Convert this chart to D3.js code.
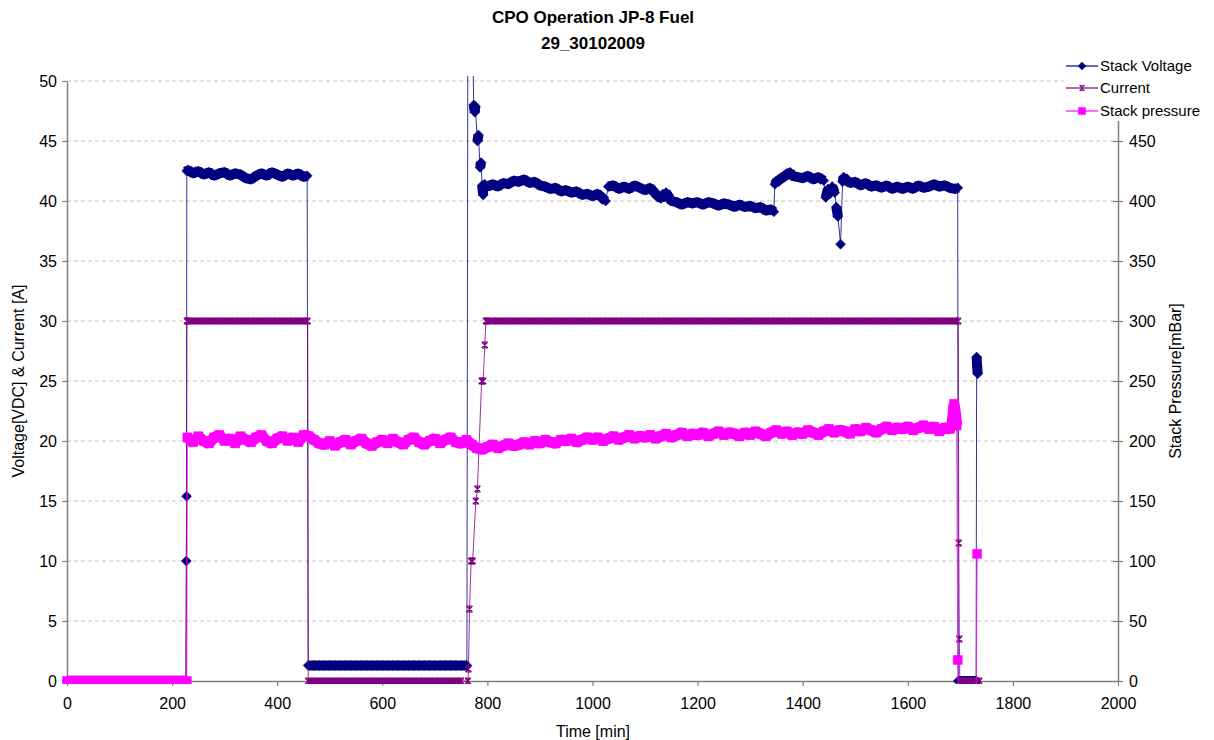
<!DOCTYPE html>
<html>
<head>
<meta charset="utf-8">
<script src="https://cdn.jsdelivr.net/npm/d3@7"></script>
<style>
  body { margin: 0; background: #fff; }
  text { font-family: "Liberation Sans", Arial, sans-serif; }
</style>
</head>
<body>
<script>
// Series: [time in min, value]
var stackVoltage = [
  [0,0],[10,0],[20,0],[30,0],[40,0],[50,0],[60,0],[70,0],[80,0],[90,0],[100,0],[110,0],[120,0],[130,0],[140,0],[150,0],[160,0],[170,0],[180,0],[190,0],[200,0],[210,0],[220,0],[226,0],
  [227,10.0],[227.5,15.4],[228,42.5],[230,42.6],[240,42.3],[250,42.5],[260,42.2],[270,42.4],[280,42.1],[290,42.3],[300,42.4],[310,42.1],[320,42.3],[330,42.2],[340,41.9],[350,41.8],[360,42.1],[370,42.3],[380,42.1],[390,42.4],[400,42.2],[410,42.0],[420,42.3],[430,42.1],[440,42.3],[450,42.0],[457,42.1],
  [459,1.3],[470,1.3],[480,1.3],[490,1.3],[500,1.3],[510,1.3],[520,1.3],[530,1.3],[540,1.3],[550,1.3],[560,1.3],[570,1.3],[580,1.3],[590,1.3],[600,1.3],[610,1.3],[620,1.3],[630,1.3],[640,1.3],[650,1.3],[660,1.3],[670,1.3],[680,1.3],[690,1.3],[700,1.3],[710,1.3],[720,1.3],[730,1.3],[740,1.3],[750,1.3],[761,1.3],
  [763,60],[771,56],[774,48.0],[776,47.4],[777,47.9],[781,45.0],[783,45.5],[786,42.8],[788,43.2],[790,41.3],[792,40.5],[795,41.4],
  [800,41.2],[810,41.4],[820,41.2],[830,41.5],[840,41.4],[850,41.7],[860,41.6],[870,41.8],[880,41.5],[890,41.6],[900,41.3],[910,41.2],[920,41.0],[930,41.1],[940,40.8],[950,40.9],[960,40.7],[970,40.8],[980,40.5],[990,40.6],
  [1000,40.4],[1010,40.6],[1020,40.2],[1025,40.0],[1030,41.2],[1040,41.3],[1050,41.0],[1060,41.2],[1070,41.0],[1080,41.3],[1090,41.1],[1100,40.9],[1110,41.1],[1120,40.6],[1130,40.2],[1140,40.7],[1150,40.0],[1160,39.9],[1170,39.7],[1180,39.9],[1190,39.8],
  [1200,39.9],[1210,39.7],[1220,39.9],[1230,39.8],[1240,39.6],[1250,39.8],[1260,39.7],[1270,39.5],[1280,39.7],[1290,39.5],[1300,39.6],[1310,39.4],[1320,39.5],[1330,39.2],[1340,39.3],[1345,39.1],
  [1347,41.4],[1350,41.6],[1360,41.9],[1370,42.2],[1376,42.4],[1380,42.1],[1390,42.0],[1400,41.9],[1410,42.1],[1420,41.8],[1430,42.0],[1440,41.7],[1444,40.3],[1448,41.0],[1452,40.6],[1456,41.2],[1461,40.7],[1464,39.5],[1467,38.7],[1472,36.4],[1476,41.6],[1478,42.0],[1484,41.7],[1490,41.5],
  [1500,41.6],[1510,41.3],[1520,41.5],[1530,41.2],[1540,41.3],[1550,41.1],[1560,41.3],[1570,41.0],[1580,41.2],[1590,41.0],[1600,41.2],[1610,41.0],[1620,41.3],[1630,41.1],[1640,41.2],[1650,41.4],[1660,41.2],[1670,41.3],[1680,41.1],[1690,41.0],[1695,41.1],
  [1696,0],[1700,0],[1710,0],[1720,0],[1730,0],[1731,27.0],[1732,26.2],[1733,25.6]
];

var current = [
  [0,0],[10,0],[20,0],[30,0],[40,0],[50,0],[60,0],[70,0],[80,0],[90,0],[100,0],[110,0],[120,0],[130,0],[140,0],[150,0],[160,0],[170,0],[180,0],[190,0],[200,0],[210,0],[220,0],[227,0],
  [228,30],[230,30],[240,30],[250,30],[260,30],[270,30],[280,30],[290,30],[300,30],[310,30],[320,30],[330,30],[340,30],[350,30],[360,30],[370,30],[380,30],[390,30],[400,30],[410,30],[420,30],[430,30],[440,30],[450,30],[458,30],
  [459,0],[470,0],[480,0],[490,0],[500,0],[510,0],[520,0],[530,0],[540,0],[550,0],[560,0],[570,0],[580,0],[590,0],[600,0],[610,0],[620,0],[630,0],[640,0],[650,0],[660,0],[670,0],[680,0],[690,0],[700,0],[710,0],[720,0],[730,0],[740,0],[750,0],[763,0],
  [764,1],[766,6],[769,10],[772,10],[778,15],[781,16],[789,25],[792,25],[795,28],[797,30],
  [800,30],[810,30],[820,30],[830,30],[840,30],[850,30],[860,30],[870,30],[880,30],[890,30],[900,30],[910,30],[920,30],[930,30],[940,30],[950,30],[960,30],[970,30],[980,30],[990,30],
  [1000,30],[1010,30],[1020,30],[1030,30],[1040,30],[1050,30],[1060,30],[1070,30],[1080,30],[1090,30],[1100,30],[1110,30],[1120,30],[1130,30],[1140,30],[1150,30],[1160,30],[1170,30],[1180,30],[1190,30],
  [1200,30],[1210,30],[1220,30],[1230,30],[1240,30],[1250,30],[1260,30],[1270,30],[1280,30],[1290,30],[1300,30],[1310,30],[1320,30],[1330,30],[1340,30],[1350,30],[1360,30],[1370,30],[1380,30],[1390,30],
  [1400,30],[1410,30],[1420,30],[1430,30],[1440,30],[1450,30],[1460,30],[1470,30],[1480,30],[1490,30],[1500,30],[1510,30],[1520,30],[1530,30],[1540,30],[1550,30],[1560,30],[1570,30],[1580,30],[1590,30],
  [1600,30],[1610,30],[1620,30],[1630,30],[1640,30],[1650,30],[1660,30],[1670,30],[1680,30],[1690,30],[1696,30],
  [1697,11.5],[1698,3.5],[1699,0],[1710,0],[1720,0],[1730,0],[1736,0]
];

var stackPressure = [
  [0,0],[10,0],[20,0],[30,0],[40,0],[50,0],[60,0],[70,0],[80,0],[90,0],[100,0],[110,0],[120,0],[130,0],[140,0],[150,0],[160,0],[170,0],[180,0],[190,0],[200,0],[210,0],[220,0],[228,0],
  [229,203],[240,199],[250,204],[260,200],[270,198],[280,203],[290,205],[300,200],[310,202],[320,198],[330,204],[340,201],[350,199],[360,203],[370,205],[380,200],[390,198],
  [400,202],[410,204],[420,200],[430,203],[440,199],[450,205],[460,204],[470,201],[480,198],[490,197],[500,200],[510,196],[520,199],[530,201],[540,197],[550,200],[560,202],[570,198],[580,196],[590,199],
  [600,201],[610,198],[620,202],[630,199],[640,197],[650,201],[660,203],[670,199],[680,197],[690,200],[700,202],[710,198],[720,201],[730,203],[740,199],[750,198],[760,201],[770,197],[780,194],[790,193],
  [800,195],[810,197],[820,194],[830,196],[840,198],[850,196],[860,197],[870,199],[880,197],[890,200],[900,198],[910,201],[920,199],[930,198],[940,201],[950,200],[960,202],[970,199],[980,201],[990,203],
  [1000,201],[1010,203],[1020,200],[1030,202],[1040,204],[1050,201],[1060,203],[1070,205],[1080,202],[1090,204],[1100,203],[1110,205],[1120,202],[1130,204],[1140,206],[1150,203],[1160,205],[1170,207],[1180,204],[1190,206],
  [1200,205],[1210,207],[1220,204],[1230,206],[1240,208],[1250,205],[1260,207],[1270,206],[1280,204],[1290,207],[1300,205],[1310,208],[1320,206],[1330,204],[1340,207],[1350,209],[1360,206],[1370,208],[1380,205],[1390,207],
  [1400,206],[1410,209],[1420,207],[1430,205],[1440,208],[1450,210],[1460,207],[1470,209],[1480,208],[1490,206],[1500,210],[1510,208],[1520,211],[1530,209],[1540,207],[1550,210],[1560,212],[1570,209],[1580,211],[1590,210],
  [1600,212],[1610,209],[1620,211],[1630,213],[1640,210],[1650,212],[1660,208],[1670,211],[1680,210],[1684,214],[1686,222],[1688,231],[1690,225],[1693,213],
  [1695,17.5],[1697,-15],[1710,-15],[1720,-15],[1730,-15],[1732,106]
];

var timeTicks = [0, 200, 400, 600, 800, 1000, 1200, 1400, 1600, 1800, 2000];
var voltageTicks = [0, 5, 10, 15, 20, 25, 30, 35, 40, 45, 50];
var pressureTicks = [0, 50, 100, 150, 200, 250, 300, 350, 400, 450];

var navy = '#000080', purple = '#800080', magenta = '#ff00ff';
var plot = { left: 67, right: 1118, top: 81, bottom: 681 };

var svg = d3.select('body').append('svg').attr('width', 1214).attr('height', 740);

var x = d3.scaleLinear().domain([0, 2000]).range([plot.left, plot.right]);
var yLeft = d3.scaleLinear().domain([0, 50]).range([plot.bottom, plot.top]);
var yRight = d3.scaleLinear().domain([0, 500]).range([plot.bottom, plot.top]);

// Gridlines
svg.append('g')
  .selectAll('line')
  .data(voltageTicks.slice(1))
  .enter()
  .append('line')
  .attr('x1', plot.left)
  .attr('x2', plot.right)
  .attr('y1', (d) => yLeft(d))
  .attr('y2', (d) => yLeft(d))
  .attr('stroke', '#c4c4c4')
  .attr('stroke-dasharray', '4,3');

// Axes
function styleAxis(g) {
  g.select('.domain').attr('stroke', '#808080').attr('stroke-width', 1.5);
  g.selectAll('.tick line').attr('stroke', '#808080').attr('stroke-width', 1.2);
  g.selectAll('.tick text').attr('fill', '#000').style('font-size', '16px')
    .style('font-family', '"Liberation Sans", Arial, sans-serif');
}

svg.append('g')
  .attr('transform', 'translate(0,' + plot.bottom + ')')
  .call(d3.axisBottom(x).tickValues(timeTicks).tickSize(5).tickSizeOuter(0).tickPadding(12).tickFormat(d3.format('d')))
  .call(styleAxis);

svg.append('g')
  .attr('transform', 'translate(' + plot.left + ',0)')
  .call(d3.axisLeft(yLeft).tickValues(voltageTicks).tickSize(5).tickSizeOuter(0).tickPadding(5))
  .call(styleAxis);

var rightAxis = svg.append('g')
  .attr('transform', 'translate(' + plot.right + ',0)')
  .call(d3.axisRight(yRight).tickValues(pressureTicks).tickSize(5).tickSizeOuter(0).tickPadding(6))
  .call(styleAxis);
rightAxis.selectAll('.tick line').attr('x1', -5);

// Clip for series (markers at 0 poke a little below the axis)
svg.append('clipPath').attr('id', 'plotclip')
  .append('rect')
  .attr('x', plot.left - 6)
  .attr('y', plot.top - 5)
  .attr('width', plot.right - plot.left + 12)
  .attr('height', plot.bottom - plot.top + 8);

var layer = svg.append('g').attr('clip-path', 'url(#plotclip)');

var diamondPath = 'M0,-5L5,0L0,5L-5,0Z';
var starPath = 'M-3,-3L3,3M-3,3L3,-3M0,-3.5L0,3.5M-3,-3L3,-3M-3,3L3,3';
var squarePath = 'M-4.5,-4.5H4.5V4.5H-4.5Z';

// dense runs of markers merge into a ribbon; draw those as a thick trail
function runs(data, y, maxJump) {
  var out = [], cur = [data[0]];
  for (var i = 1; i < data.length; i++) {
    var a = data[i - 1], b = data[i];
    if (b[0] - a[0] <= 11 && Math.abs(y(b[1]) - y(a[1])) < maxJump) {
      cur.push(b);
    } else {
      if (cur.length > 1) out.push(cur);
      cur = [b];
    }
  }
  if (cur.length > 1) out.push(cur);
  return out;
}

function drawSeries(data, y, color, marker, trailWidth, maxJump, filled) {
  var line = d3.line().x((d) => x(d[0])).y((d) => y(d[1]));
  var g = layer.append('g');
  g.append('path').datum(data).attr('d', line)
    .attr('fill', 'none').attr('stroke', color).attr('stroke-width', 1).attr('stroke-opacity', 0.8);
  g.selectAll('path.trail')
    .data(runs(data, y, maxJump))
    .enter()
    .append('path')
    .attr('class', 'trail')
    .attr('d', line)
    .attr('fill', 'none')
    .attr('stroke', color)
    .attr('stroke-width', trailWidth)
    .attr('stroke-linejoin', 'bevel');
  g.selectAll('path.mk')
    .data(data)
    .enter()
    .append('path')
    .attr('class', 'mk')
    .attr('transform', (d) => 'translate(' + x(d[0]) + ',' + y(d[1]) + ')')
    .attr('d', marker)
    .attr('fill', filled ? color : 'none')
    .attr('stroke', color)
    .attr('stroke-width', filled ? 0.5 : 1.2);
}

drawSeries(stackVoltage, yLeft, navy, diamondPath, 10, 10, true);
drawSeries(current, yLeft, purple, starPath, 6, 10, false);
drawSeries(stackPressure, yRight, magenta, squarePath, 11, 20, true);

// Titles
svg.append('text').attr('x', 593).attr('y', 23).attr('text-anchor', 'middle')
  .style('font-size', '17px').style('font-weight', 'bold').text('CPO Operation JP-8 Fuel');
svg.append('text').attr('x', 593).attr('y', 49).attr('text-anchor', 'middle')
  .style('font-size', '17px').style('font-weight', 'bold').text('29_30102009');

svg.append('text').attr('x', 593).attr('y', 737).attr('text-anchor', 'middle')
  .style('font-size', '16px').text('Time [min]');
svg.append('text').attr('transform', 'translate(24,381) rotate(-90)').attr('text-anchor', 'middle')
  .style('font-size', '16px').text('Voltage[VDC] & Current [A]');
svg.append('text').attr('transform', 'translate(1181,381) rotate(-90)').attr('text-anchor', 'middle')
  .style('font-size', '16px').text('Stack Pressure[mBar]');

// Legend (white box covers the top of the right axis)
var legend = svg.append('g');
legend.append('rect').attr('x', 1064).attr('y', 52).attr('width', 150).attr('height', 69).attr('fill', '#fff');
var legendItems = [
  { name: 'Stack Voltage', color: navy, marker: diamondPath, filled: true, y: 66 },
  { name: 'Current', color: purple, marker: starPath, filled: false, y: 88 },
  { name: 'Stack pressure', color: magenta, marker: squarePath, filled: true, y: 111 }
];
var li = legend.selectAll('g.item').data(legendItems).enter().append('g').attr('class', 'item');
li.append('line').attr('x1', 1066).attr('x2', 1098).attr('y1', (d) => d.y).attr('y2', (d) => d.y)
  .attr('stroke', (d) => d.color).attr('stroke-width', 1.2);
li.append('path').attr('transform', (d) => 'translate(1082,' + d.y + ') scale(0.8)').attr('d', (d) => d.marker)
  .attr('fill', (d) => (d.filled ? d.color : 'none')).attr('stroke', (d) => d.color)
  .attr('stroke-width', (d) => (d.filled ? 0.5 : 1.2));
li.append('text').attr('x', 1100).attr('y', (d) => d.y).attr('dy', '0.35em')
  .style('font-size', '15px').attr('fill', '#000').text((d) => d.name);
</script>
</body>
</html>
